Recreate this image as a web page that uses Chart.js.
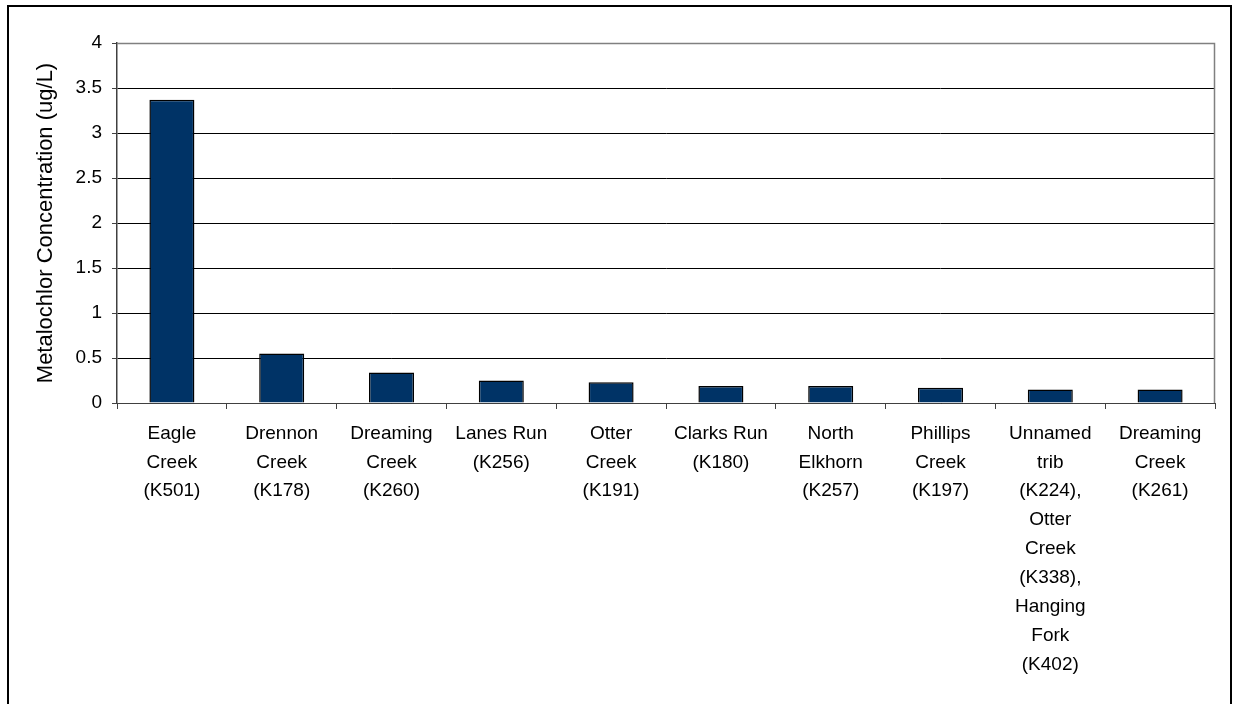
<!DOCTYPE html>
<html>
<head>
<meta charset="utf-8">
<script src="https://cdn.jsdelivr.net/npm/chart.js@4.4.1/dist/chart.umd.min.js"></script>
<style>
  html, body { margin: 0; padding: 0; background: #fff; }
  canvas { display: block; }
</style>
</head>
<body>
<canvas id="myChart" width="1235" height="704"></canvas>
<script>
// sampling sites, one label line per array entry
const sites = [
    ['Eagle', 'Creek', '(K501)'],
    ['Drennon', 'Creek', '(K178)'],
    ['Dreaming', 'Creek', '(K260)'],
    ['Lanes Run', '(K256)'],
    ['Otter', 'Creek', '(K191)'],
    ['Clarks Run', '(K180)'],
    ['North', 'Elkhorn', '(K257)'],
    ['Phillips', 'Creek', '(K197)'],
    ['Unnamed', 'trib', '(K224),', 'Otter', 'Creek', '(K338),', 'Hanging', 'Fork', '(K402)'],
    ['Dreaming', 'Creek', '(K261)']
];
const metolachlor = [3.37, 0.55, 0.34, 0.25, 0.23, 0.19, 0.19, 0.17, 0.15, 0.15];
const yTicks = [0, 0.5, 1, 1.5, 2, 2.5, 3, 3.5, 4];

const font = 'Liberation Sans, Arial, sans-serif';
const PAD_LEFT = 20;

// grey frame on top/right of the plot + black outer box
const frames = {
    id: 'frames',
    beforeDatasetsDraw(chart) {
        const {ctx, chartArea: a} = chart;
        ctx.save();
        ctx.strokeStyle = '#808080';
        ctx.lineWidth = 1.5;
        ctx.beginPath();
        ctx.moveTo(a.left, a.top + 0.5);
        ctx.lineTo(a.right - 0.5, a.top + 0.5);
        ctx.lineTo(a.right - 0.5, a.bottom);
        ctx.stroke();
        ctx.restore();
    },
    afterDraw(chart) {
        const ctx = chart.ctx;
        ctx.save();
        ctx.strokeStyle = '#000';
        ctx.lineWidth = 2;
        ctx.strokeRect(8, 6, 1223, 710);
        ctx.restore();
    }
};

const ctx = document.getElementById('myChart').getContext('2d');
const myChart = new Chart(ctx, {
    type: 'bar',
    data: {
        labels: sites,
        datasets: [{
            label: 'Metalochlor',
            data: metolachlor,
            backgroundColor: '#003366',
            borderColor: '#000',
            borderWidth: 1.5,
            categoryPercentage: 1,
            barPercentage: 0.41
        }]
    },
    options: {
        responsive: false,
        devicePixelRatio: 1,
        animation: false,
        layout: { padding: { left: PAD_LEFT, top: 43, right: 20, bottom: 0 } },
        plugins: {
            legend: { display: false },
            tooltip: { enabled: false }
        },
        scales: {
            x: {
                offset: true,
                grid: {
                    offset: true,
                    drawOnChartArea: false,
                    drawTicks: true,
                    tickLength: 6,
                    color: '#404040'
                },
                border: { color: '#404040', width: 1 },
                ticks: {
                    color: '#000',
                    padding: 10,
                    maxRotation: 0,
                    autoSkip: false,
                    font: { family: font, size: 19, lineHeight: 1.52 }
                },
                afterFit(scale) { scale.height = 301; }
            },
            y: {
                min: 0,
                max: 4,
                afterBuildTicks(scale) {
                    scale.ticks = yTicks.map(v => ({ value: v }));
                },
                grid: {
                    color: '#000',
                    tickColor: '#404040',
                    tickLength: 5
                },
                border: { color: '#404040', width: 1.5 },
                ticks: {
                    color: '#000',
                    padding: 10,
                    font: { family: font, size: 19 },
                    callback: v => String(v)
                },
                title: {
                    display: true,
                    text: 'Metalochlor Concentration (ug/L)',
                    color: '#000',
                    padding: { top: 13, bottom: 0 },
                    font: { family: font, size: 22 }
                },
                afterFit(scale) { scale.width = 117 - PAD_LEFT; }
            }
        }
    },
    plugins: [frames]
});
</script>
</body>
</html>
